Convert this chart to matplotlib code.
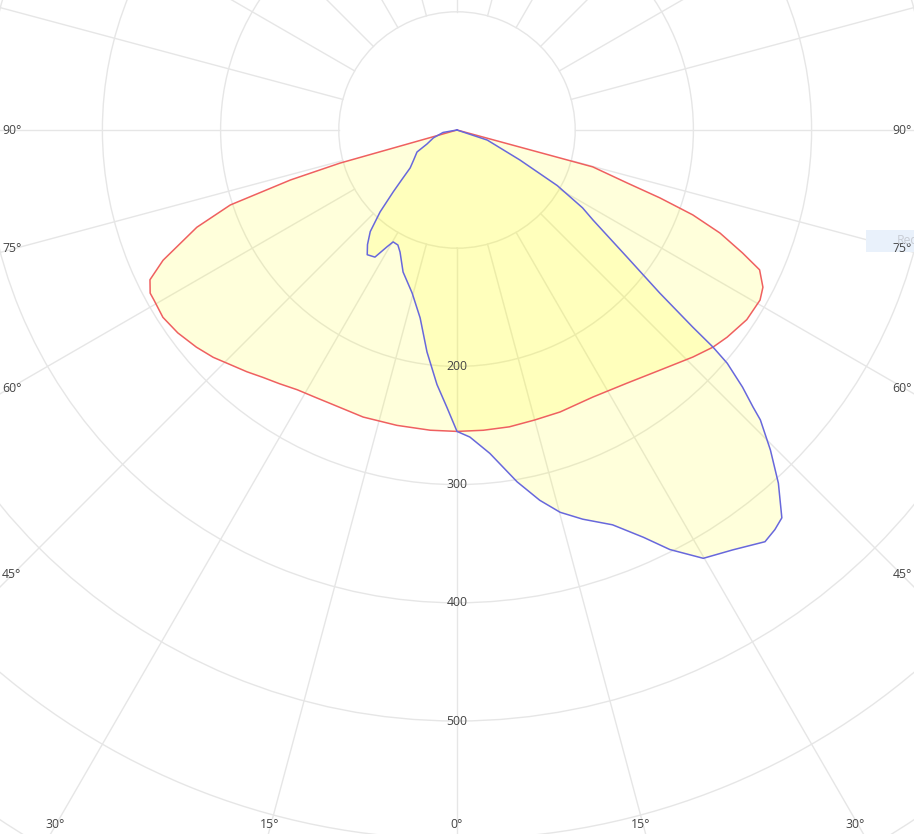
import numpy as np
import matplotlib
matplotlib.use("Agg")
import matplotlib.pyplot as plt
from matplotlib.patches import Rectangle

plt.rcParams['font.family'] = ['Open Sans', 'DejaVu Sans']

# ---- data (angle in degrees from nadir, negative = left; intensity) ----
red_angles = [-90, -74.2, -73.3, -71.7, -69.5, -66.1, -64.0, -62.0, -60.6, -57.5,
              -54.0, -50.2, -47.0, -44.0, -41.0, -38.1, -35.0, -31.6, -28.0, -24.9,
              -18.1, -11.5, -5.1, 0, 5, 10, 15, 20.1, 27.0, 33.9, 40.2, 46.1, 49.7,
              52.5, 56.8, 60.7, 62.8, 65.2, 66.7, 68.6, 70.2, 71.5, 72.7, 74.8, 90]
red_values = [0, 103, 147, 202, 235, 272, 289, 294, 294, 295,
              292, 287, 282, 276, 271, 266, 262, 258, 256, 255,
              255.5, 255, 255, 255, 255, 255, 254, 254, 253.5, 258, 266, 277, 284,
              288, 293, 294, 291, 282, 263, 239, 212, 181, 151, 119, 0]

blue_angles = [-90, -80, -71.6, -65, -61.2, -55, -51.0, -48, -45.9, -43.2, -40.5, -38,
               -35.75, -32.85, -30.9, -29.7, -27.2, -25, -20.8, -15.4, -11.1, -7.7,
               -4.5, -2.06, 0, 2.4, 5.8, 9.7, 12.6, 15.1, 17.9, 21.5, 24.6, 26.9, 29.9,
               33.3, 36.8, 38.5, 39.95, 42.3, 44.4, 46.3, 46.9, 48.0, 49.2, 49.7, 50.1,
               51.2, 53.2, 56.5, 58.2, 61.0, 64.5, 71.6, 90]
blue_values = [0, 12, 21, 28, 38.6, 45, 51, 63, 75, 95, 113, 123,
               130, 128, 115, 109, 109.4, 114, 128.5, 143, 162, 189.5,
               216, 235, 255, 260, 275, 302, 321, 335, 346, 359, 379, 398, 418,
               425, 435, 432, 428, 404, 379, 355, 343, 325, 302, 284, 260,
               220, 180, 138, 125, 97, 59, 27, 0]

ring_values = [100, 200, 300, 400, 500, 600, 700]
ring_labels = {200: '200', 300: '300', 400: '400', 500: '500'}
spoke_angles = list(range(0, 360, 15))

left_labels = ['90°', '75°', '60°', '45°']
bottom_labels = ['30°', '15°', '0°', '15°', '30°']
legend_name = 'Red'

# ---- layout ----
W, H = 914, 834
cx, cy = 457, 130          # centre in pixels (from top-left)
scale = 1.182              # px per unit
RMAX = 720
R = RMAX * scale

fig = plt.figure(figsize=(W / 100, H / 100), dpi=100)
fig.patch.set_facecolor('white')
ax = fig.add_axes([(cx - R) / W, (H - cy - R) / H, 2 * R / W, 2 * R / H],
                  projection='polar')
ax.set_theta_zero_location('S')
ax.set_theta_direction(1)
ax.set_ylim(0, RMAX)
ax.set_xticks([])
ax.set_yticks(ring_values)
ax.set_yticklabels([])
ax.yaxis.grid(True, color='#e6e6e6', lw=1.0)
ax.spines['polar'].set_visible(False)
ax.set_axisbelow(True)

grid_c = '#e6e6e6'
for a in spoke_angles:
    t = np.deg2rad(a)
    ax.plot([t, t], [100, RMAX], color=grid_c, lw=1.0, zorder=0.5)

fill_c = (1.0, 1.0, 0.0, 0.14)
rt = np.deg2rad(red_angles)
bt = np.deg2rad(blue_angles)
ax.fill(rt, red_values, color=fill_c, lw=0, zorder=1)
ax.fill(bt, blue_values, color=fill_c, lw=0, zorder=1)
ax.plot(rt, red_values, color='#ef6060', lw=1.1, zorder=3)
ax.plot(bt, blue_values, color='#6868dc', lw=1.1, zorder=3)

for v, s in ring_labels.items():
    ax.text(0, v, s, ha='center', va='center', fontsize=8.8, color='#444444', zorder=5)

def fx(x):
    return x / W

def fy(y):
    return 1 - y / H

left_y = [130, 249, 388, 575]
for s, y in zip(left_labels, left_y):
    fig.text(fx(2), fy(y), s, ha='left', va='center', fontsize=8.8, color='#444444')
    fig.text(fx(912), fy(y), s, ha='right', va='center', fontsize=8.8, color='#444444')

bottom_x = [55, 270, 457, 641, 855]
for s, x in zip(bottom_labels, bottom_x):
    fig.text(fx(x), fy(825), s, ha='center', va='center', fontsize=8.8, color='#444444')

# partially visible legend at right edge
fig.patches.append(Rectangle((fx(866), fy(252)), 48 / W, 22 / H, transform=fig.transFigure,
                             facecolor='#e9f1fb', edgecolor='none', zorder=0.4))
fig.text(fx(897), fy(241), legend_name, ha='left', va='center', fontsize=8.8, color='#c8ccd4')

fig.savefig('out.png', dpi=100)
